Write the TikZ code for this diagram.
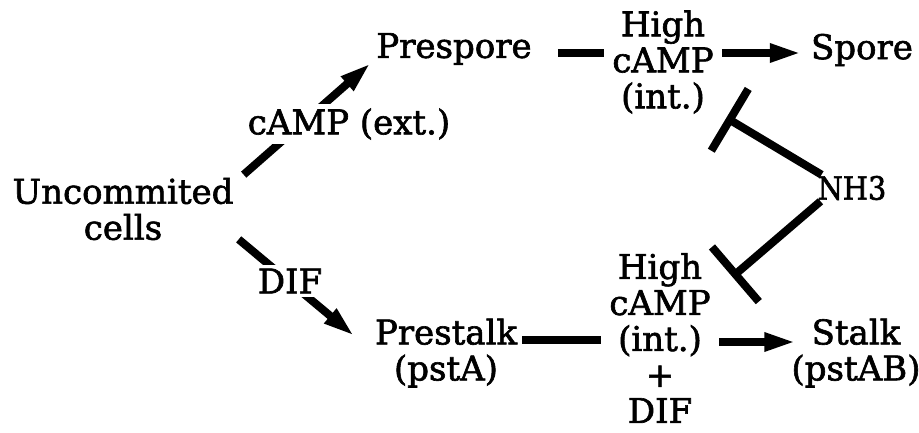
\documentclass[tikz,border=0pt]{standalone}
\usepackage{fontspec}
\setmainfont[FakeBold=1.8]{DejaVu Serif}
\newfontfamily\condfont[FakeBold=1.8]{DejaVu Serif Condensed}
\usetikzlibrary{arrows.meta}
\begin{document}
\begin{tikzpicture}[x=1pt,y=-1pt,
  lbl/.style={font=\fontsize{34}{36}\selectfont, align=center, inner sep=0pt},
  small/.style={font=\condfont\fontsize{32}{34}\selectfont, inner sep=0pt},
  cut/.style={fill=white, inner sep=4pt},
  conn/.style={line width=8pt},
  arr/.style={conn, -{Triangle[length=32pt,width=17pt]}},
  inh/.style={conn, -{Bar[width=72pt]}}]
\fill[white] (0,0) rectangle (919,432);
\useasboundingbox (0,0) rectangle (919,432);
% nodes
\node[lbl] (unc) at (123,209) {Uncommited\\cells};
\node[lbl] (pre) at (454,49) {Prespore};
\node[lbl] (hi1) at (663,62) {High\\cAMP\\(int.)};
\node[lbl] (spore) at (862,50) {Spore};
\node[small] (nh3) at (852,188) {NH3};
\node[lbl] (hi2) at (660,338) {High\\cAMP\\(int.)\\+\\DIF};
\node[lbl] (prestalk) at (446,353) {Prestalk\\(pstA)};
\node[lbl] (stalk) at (856,353) {Stalk\\(pstAB)};
% connectors
\draw[arr] ([shift={(10,-3)}]unc.north east) -- ([shift={(-5,-2.4)}]pre.south west);
\draw[arr] ([shift={(5,-1)}]unc.south east) -- ([shift={(-20,18)}]prestalk.north west);
\draw[conn] ([shift={(26,4)}]pre.east) -- ([shift={(-8.5,-9)}]hi1.west);
\draw[arr] ([shift={(8.5,-9)}]hi1.east) -- ([shift={(-9,3)}]spore.west);
\draw[conn] ([shift={(5,-13)}]prestalk.east) -- ([shift={(-8.5,2)}]hi2.west);
\draw[arr] ([shift={(8.5,4)}]hi2.east) -- ([shift={(5,-11)}]stalk.west);
\draw[inh] ([shift={(4,-1)}]nh3.north west) -- ([shift={(12.5,4)}]hi1.south east);
\draw[inh] ([shift={(3,1)}]nh3.south west) -- ([shift={(21.5,24)}]hi2.north east);
% labels on connectors
\node[lbl,cut] (campext) at (349,124) {cAMP (ext.)};
\node[lbl,cut] (dif) at (290,281) {DIF};
\end{tikzpicture}
\end{document}
